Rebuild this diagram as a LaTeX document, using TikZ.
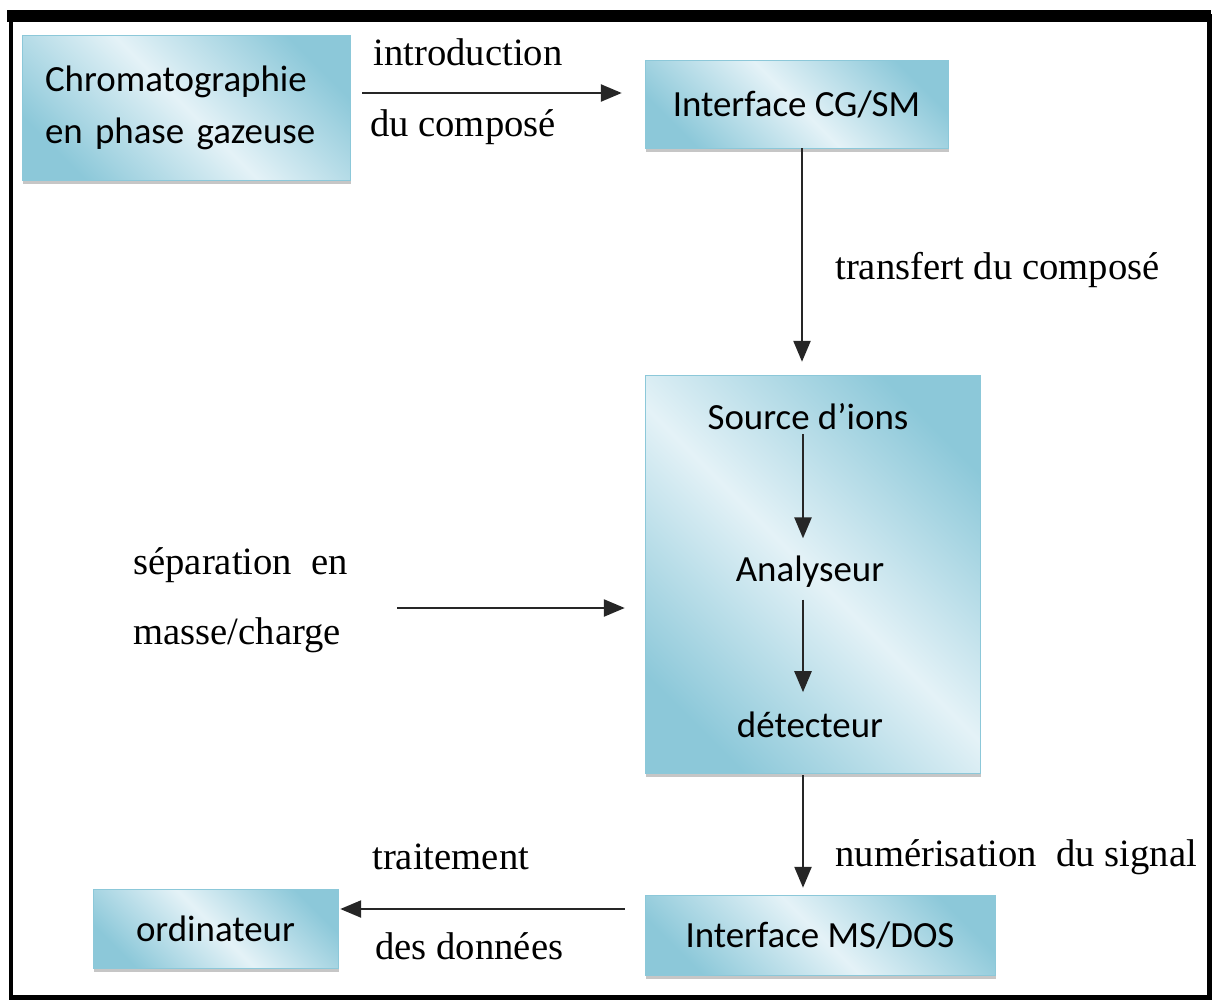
\documentclass[tikz,border=0pt]{standalone}
\usepackage{fontspec}
\setmainfont{Liberation Serif}
\newfontfamily\blocfont{Carlito}
\usetikzlibrary{arrows.meta,shadows}

\definecolor{blocfonce}{RGB}{140,200,217}
\definecolor{bloclair}{RGB}{228,242,247}
\pgfdeclareverticalshading{blocdeg}{100bp}{color(0bp)=(blocfonce); color(24bp)=(blocfonce);
  color(50bp)=(bloclair); color(76bp)=(blocfonce); color(100bp)=(blocfonce)}

\tikzset{
  bloc/.style={shading=blocdeg, shading angle=-45, draw=blocfonce, line width=0.3pt,
    drop shadow={shadow xshift=0.6pt, shadow yshift=-2.2pt, opacity=0.45},
    font=\blocfont\fontsize{21}{29.6}\selectfont, text=black, inner sep=0pt},
  interne/.style={font=\blocfont\fontsize{21}{25}\selectfont, text=black, inner sep=2pt},
  etiq/.style={font=\fontsize{22}{26}\selectfont, text=black, inner sep=0pt},
  fleche/.style={->, line width=0.05cm, black!85},
}

\begin{document}
\begin{tikzpicture}[x=0.02cm, y=-0.02cm, >={Triangle[length=0.42cm, width=0.34cm]}]
    \useasboundingbox (0,0) rectangle (1213,1001);
    % cadre
    \draw[line width=0.1cm] (11,16) rectangle (1209,997);
    \draw[line width=0.24cm] (7,16) -- (1211,16);

    % blocs
    \node[bloc, minimum width=6.56cm, minimum height=2.9cm, text width=5.64cm, inner xsep=0.46cm, align=left] (chroma) at (186,107.5) {Chromatographie\\en phase gazeuse};
    \node[bloc, minimum width=6.06cm, minimum height=1.76cm] (cgsm) at (796.5,104) {Interface CG/SM};
    \node[bloc, minimum width=6.7cm, minimum height=7.96cm] (spectro) at (812.5,574) {};
    \node[bloc, minimum width=7cm, minimum height=1.6cm] (msdos) at (820,935) {Interface MS/DOS};
    \node[bloc, minimum width=4.9cm, minimum height=1.58cm] (ordi) at (215.5,928.5) {ordinateur};

    \node[interne] (source) at (808,417) {Source d’ions};
    \node[interne] (analyseur) at (810,572) {Analyseur};
    \node[interne] (detecteur) at (810,725) {détecteur};

    % etiquettes
    \node[etiq] (intro) at (468,52) {introduction};
    \node[etiq] (ducompose) at (463,127) {du composé};
    \node[etiq, anchor=west] (transfert) at (835,270) {transfert du composé};
    \node[etiq, anchor=west] (separation) at (133,565) {séparation\hspace{0.25em} en};
    \node[etiq, anchor=west] (masse) at (133,635) {masse/charge};
    \node[etiq, anchor=west] (numerisation) at (835,857) {numérisation\hspace{0.25em} du signal};
    \node[etiq, anchor=west] (traitement) at (372,857) {traitement};
    \node[etiq, anchor=west] (donnees) at (375,946) {des données};
    \coordinate (sepdebut) at (397,608);

    % fleches
    \draw[fleche, shorten <=0.24cm, shorten >=0.46cm] (chroma.east |- 0,93) -- (cgsm.west |- 0,93);
    \draw[fleche, shorten >=0.26cm] (cgsm.south -| 802,0) -- (spectro.north -| 802,0);
    \draw[fleche, shorten >=0.28cm] (source.south -| 803,0) -- (analyseur.north -| 803,0);
    \draw[fleche, shorten <=0.16cm, shorten >=0.32cm] (analyseur.south -| 803,0) -- (detecteur.north -| 803,0);
    \draw[fleche, shorten >=0.4cm] (sepdebut) -- (sepdebut -| spectro.west);
    \draw[fleche, shorten <=0.04cm, shorten >=0.14cm] (spectro.south -| 803,0) -- (msdos.north -| 803,0);
    \draw[fleche, shorten <=0.4cm, shorten >=0.04cm] (msdos.west |- 0,909) -- (ordi.east |- 0,909);
\end{tikzpicture}
\end{document}
